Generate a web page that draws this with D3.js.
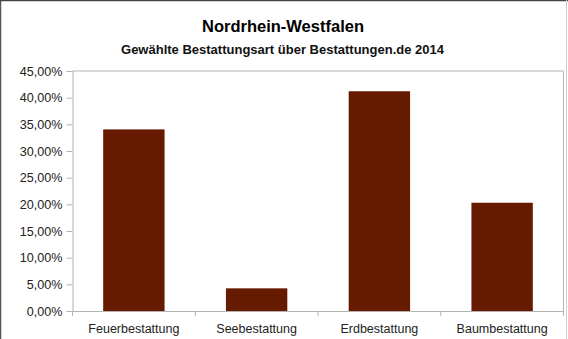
<!DOCTYPE html>
<html><head><meta charset="utf-8">
<script src="https://cdn.jsdelivr.net/npm/d3@7"></script>
<style>html,body{margin:0;padding:0;background:#fff;overflow:hidden}</style>
</head><body>
<svg id="c" width="568" height="339"></svg>
<script>
const categories = ["Feuerbestattung", "Seebestattung", "Erdbestattung", "Baumbestattung"];
const values = [34.05, 4.25, 41.2, 20.3];
const yTicks = [0, 5, 10, 15, 20, 25, 30, 35, 40, 45];
const title = "Nordrhein-Westfalen";
const subtitle = "Gewählte Bestattungsart über Bestattungen.de 2014";

const svg = d3.select("#c");
const font = "'Liberation Sans', Arial, sans-serif";
const m = {left: 72.5, right: 563.5, top: 71, bottom: 311};

// outer frame
svg.append("line").attr("x1",0.5).attr("x2",0.5).attr("y1",0).attr("y2",339).attr("stroke","#555").attr("stroke-width",1.5);
svg.append("line").attr("x1",0).attr("x2",568).attr("y1",0.5).attr("y2",0.5).attr("stroke","#444").attr("stroke-width",1.5);
svg.append("line").attr("x1",566.5).attr("x2",566.5).attr("y1",0).attr("y2",339).attr("stroke","#ccc").attr("stroke-width",1);

svg.append("text").attr("x",283).attr("y",32).attr("text-anchor","middle")
  .style("font-family",font).style("font-size","16.5px").style("font-weight","bold").attr("fill","#000").text(title);
svg.append("text").attr("x",282.5).attr("y",53.5).attr("text-anchor","middle")
  .style("font-family",font).style("font-size","13px").style("font-weight","bold").attr("fill","#111").text(subtitle);

const x = d3.scaleBand().domain(categories).range([m.left, m.right]).paddingInner(0.5).paddingOuter(0.25);
const y = d3.scaleLinear().domain([0, 45]).range([m.bottom, m.top]);

// plot frame (top and right)
svg.append("path").attr("d", `M${m.left},${m.top}H${m.right}V${m.bottom}`).attr("fill","none").attr("stroke","#b3b3b3");

// bars
svg.selectAll("rect.bar").data(values).enter().append("rect").attr("class","bar")
  .attr("x",(d,i)=>x(categories[i])).attr("width",x.bandwidth())
  .attr("y",d=>y(d)).attr("height",d=>y(0)-y(d)).attr("fill","#661a00");

const fmt = v => d3.format(".2f")(v).replace(".", ",") + "%";

// y axis
const ya = svg.append("g").attr("transform",`translate(${m.left},0)`)
  .call(d3.axisLeft(y).tickValues(yTicks).tickFormat(fmt).tickSize(6).tickPadding(4));
ya.select(".domain").attr("stroke","#b3b3b3");
ya.selectAll(".tick line").attr("stroke","#b3b3b3");
ya.selectAll("text").style("font-family",font).style("font-size","12.6px").attr("fill","#222");

// x axis
const xa = svg.append("g").attr("transform",`translate(0,${m.bottom})`)
  .call(d3.axisBottom(x).tickSize(0).tickPadding(13));
xa.select(".domain").attr("stroke","#b3b3b3").attr("d",`M${m.left},0.5H${m.right}`);
xa.selectAll("text").style("font-family",font).style("font-size","12.5px").attr("fill","#222");
const bounds = d3.range(categories.length + 1).map(i => m.left + i * (m.right - m.left) / categories.length);
xa.selectAll("line.bt").data(bounds).enter().append("line").attr("class","bt")
  .attr("x1",d=>d).attr("x2",d=>d).attr("y1",0).attr("y2",5).attr("stroke","#b3b3b3");
</script>
</body></html>
